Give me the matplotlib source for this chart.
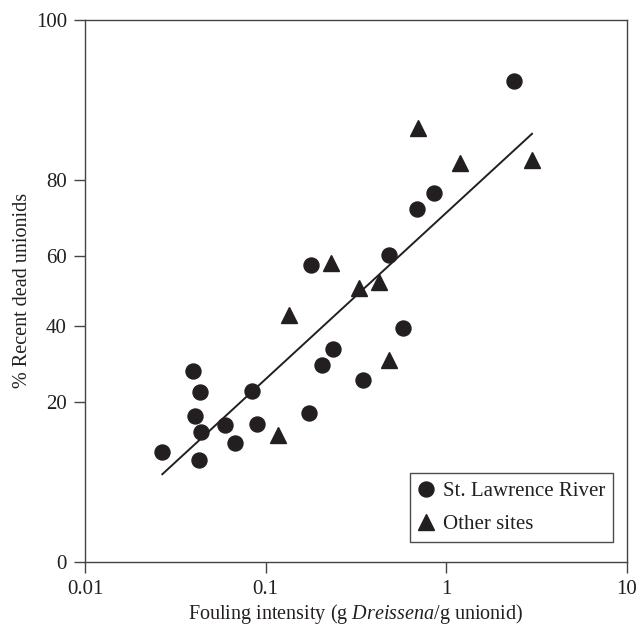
import numpy as np
import matplotlib
matplotlib.use("Agg")
import matplotlib.pyplot as plt
from matplotlib.lines import Line2D

# St. Lawrence River (circles)
slr_x = [0.0268, 0.0397, 0.0408, 0.0426, 0.0435, 0.0437, 0.0595, 0.0676, 0.0840, 0.0892,
         0.1744, 0.1781, 0.2058, 0.2350, 0.3457, 0.4833, 0.5735, 0.6908, 0.858, 2.378]
slr_y = [9.7, 27.5, 16.9, 8.4, 22.3, 13.5, 14.9, 11.3, 22.5, 15.1,
         17.4, 57.4, 29.1, 33.4, 25.3, 60.4, 39.4, 72.8, 76.9, 96.9]
# Other sites (triangles)
oth_x = [0.1166, 0.1351, 0.2299, 0.330, 0.4256, 0.4833, 0.694, 1.19, 2.98]
oth_y = [12.9, 43.0, 57.9, 50.7, 52.6, 30.5, 90.5, 83.7, 84.4]
# Regression line endpoints
fit_x = [0.0268, 2.98]
fit_y = [6.3, 89.5]

x_ticks = [0.01, 0.1, 1, 10]
x_ticklabels = ["0.01", "0.1", "1", "10"]
y_ticks = [0, 20, 40, 60, 80, 100]

ink = "#231f20"
plt.rcParams['font.family'] = ['Liberation Serif', 'DejaVu Serif']
plt.rcParams['mathtext.fontset'] = 'custom'
plt.rcParams['mathtext.rm'] = 'Liberation Serif'
plt.rcParams['mathtext.it'] = 'Liberation Serif:italic'

fig = plt.figure(figsize=(6.37, 6.33), dpi=100)
ax = fig.add_axes([85/637, 1-561.7/633, (627-85)/637, (561.7-20)/633])

def fwd(p):
    p = np.clip(np.asarray(p, dtype=float), 0, 100)
    return np.arcsin(np.sqrt(p/100.0))

def inv(t):
    t = np.clip(np.asarray(t, dtype=float), 0, np.pi/2)
    return 100*np.sin(t)**2

ax.set_xscale('log')
ax.set_yscale('function', functions=(fwd, inv))

ax.plot(fit_x, fit_y, color=ink, lw=1.4, zorder=2)
ax.plot(slr_x, slr_y, 'o', color=ink, ms=10.8, mec=ink, ls='none', zorder=3)
ax.plot(oth_x, oth_y, '^', color=ink, ms=11, mec=ink, ls='none', zorder=3)

ax.set_xlim(0.01, 10)
ax.set_ylim(0, 100)
ax.set_xticks(x_ticks)
ax.set_xticklabels(x_ticklabels)
ax.xaxis.set_minor_locator(matplotlib.ticker.NullLocator())
ax.set_yticks(y_ticks)
ax.set_yticklabels([str(v) for v in y_ticks])
ax.yaxis.set_minor_locator(matplotlib.ticker.NullLocator())
ax.tick_params(axis='both', direction='out', length=8, width=1.0, colors='#444444',
               labelcolor=ink, labelsize=15, pad=5)
for s in ax.spines.values():
    s.set_color('#444444')
    s.set_linewidth(1.0)

ax.set_xlabel("Fouling intensity (g $\\it{Dreissena}$/g unionid)", fontsize=14.5, color=ink, labelpad=2)
ax.set_ylabel("% Recent dead unionids", fontsize=14.5, color=ink, labelpad=3)

handles = [Line2D([], [], marker='o', color=ink, ls='none', ms=10.8),
           Line2D([], [], marker='^', color=ink, ls='none', ms=11)]
leg = ax.legend(handles, ["St. Lawrence River", "Other sites"], loc='lower right',
                bbox_to_anchor=(613.3/637, 1-542.3/633), bbox_transform=fig.transFigure,
                borderaxespad=0, fontsize=15, frameon=True, fancybox=False,
                handlelength=0.7, handletextpad=0.45, borderpad=0.4, labelspacing=0.65)
leg.get_frame().set_edgecolor(ink)
leg.get_frame().set_linewidth(1.0)
for t in leg.get_texts():
    t.set_color(ink)

fig.savefig("out.png", dpi=100)
